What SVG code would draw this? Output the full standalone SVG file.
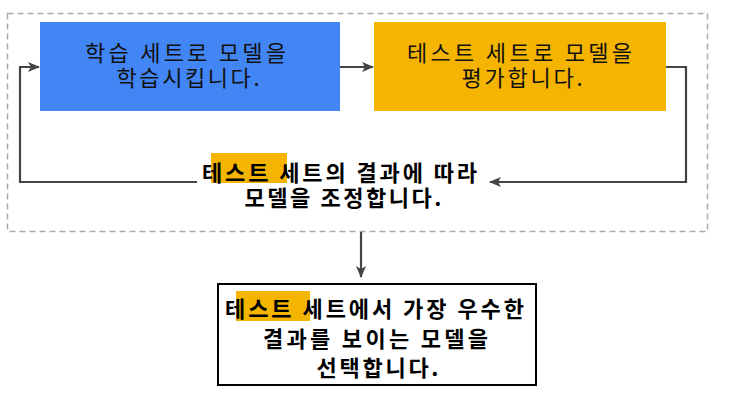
<svg xmlns="http://www.w3.org/2000/svg" width="738" height="404" viewBox="0 0 738 404">
<defs>
<style>
.t{font-family:"Noto Sans CJK KR","Noto Sans",sans-serif;font-size:22px;fill:#111;text-anchor:middle}
.b{font-weight:bold;fill:#000}
.c{fill:none;stroke:#444;stroke-width:2.2}
.hl{fill:#F4B400}
</style>
<marker id="ah" viewBox="0 0 12 10" refX="11" refY="5" markerWidth="12" markerHeight="10" markerUnits="userSpaceOnUse" orient="auto">
<path d="M0,0 L12,5 L0,10 L3,5 Z" fill="#444"/>
</marker>
</defs>
<rect x="7.5" y="13.5" width="700" height="218" fill="none" stroke="#aaa" stroke-width="1.5" stroke-dasharray="6 4"/>
<g id="connectors">
<path class="c" d="M340,67 H373" marker-end="url(#ah)"/>
<path class="c" d="M666,67 H686 V182 H490" marker-end="url(#ah)"/>
<path class="c" d="M197,182 H20 V67 H39" marker-end="url(#ah)"/>
<path class="c" d="M361,232 V277" marker-end="url(#ah)"/>
</g>
<g id="train">
<rect x="40" y="22" width="300" height="89" fill="#4285F4"/>
<text class="t" x="185.5" y="61" textLength="201" lengthAdjust="spacing">학습 세트로 모델을</text>
<text class="t" x="188" y="86" textLength="143" lengthAdjust="spacing">학습시킵니다.</text>
</g>
<g id="evaluate">
<rect x="374" y="22" width="292" height="89" fill="#F4B400"/>
<text class="t" x="519.5" y="61" textLength="225" lengthAdjust="spacing">테스트 세트로 모델을</text>
<text class="t" x="522" y="86" textLength="121" lengthAdjust="spacing">평가합니다.</text>
</g>
<g id="adjust">
<rect class="hl" x="211" y="153" width="76" height="30"/>
<text class="t b" x="339.5" y="181" textLength="275" lengthAdjust="spacing">테스트 세트의 결과에 따라</text>
<text class="t b" x="343" y="206" textLength="197" lengthAdjust="spacing">모델을 조정합니다.</text>
</g>
<g id="select">
<rect x="218" y="284" width="318" height="101" fill="#fff" stroke="#000" stroke-width="2"/>
<rect class="hl" x="236" y="291" width="74" height="30"/>
<text class="t b" x="374.5" y="317" textLength="299" lengthAdjust="spacing">테스트 세트에서 가장 우수한</text>
<text class="t b" x="375.5" y="347" textLength="225" lengthAdjust="spacing">결과를 보이는 모델을</text>
<text class="t b" x="377.5" y="376" textLength="122" lengthAdjust="spacing">선택합니다.</text>
</g>
</svg>
